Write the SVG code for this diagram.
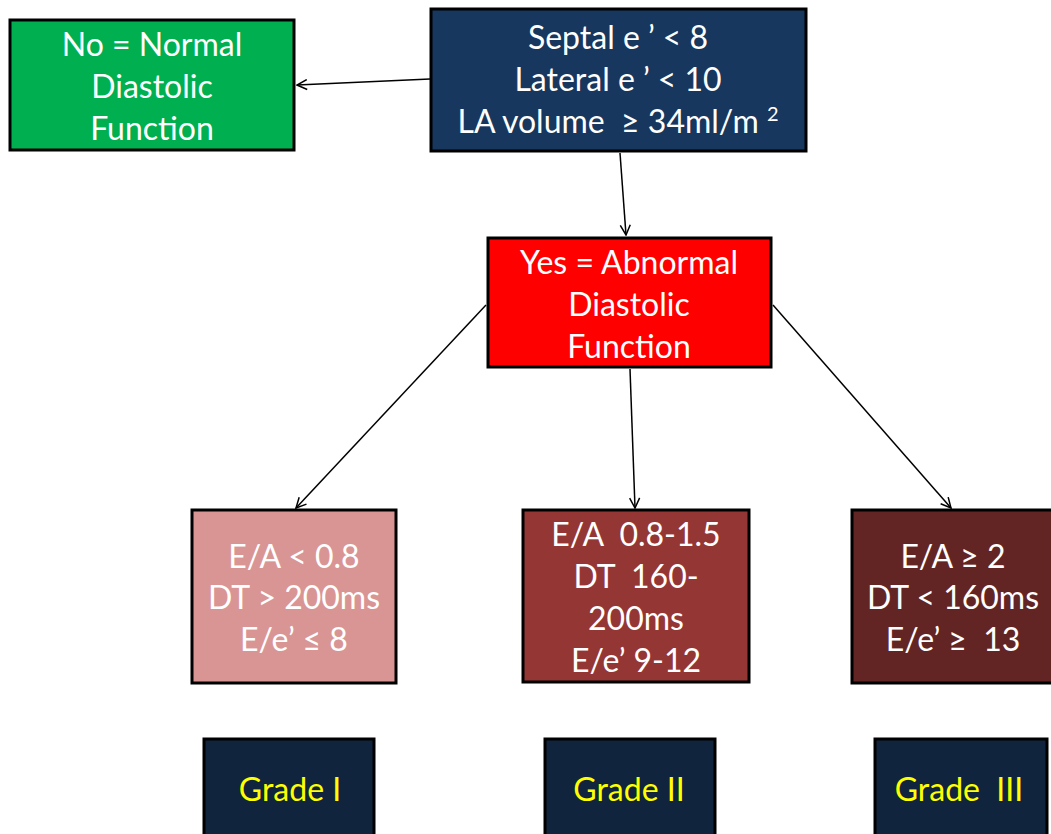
<svg xmlns="http://www.w3.org/2000/svg" width="1051" height="834" viewBox="0 0 1051 834">
<style>
.box{stroke:#000;stroke-width:3}
.t{font-family:Lato,"Open Sans","Liberation Sans",sans-serif;font-size:32px;fill:#fff;text-anchor:middle;white-space:pre}
.g{font-family:Lato,"Open Sans","Liberation Sans",sans-serif;font-size:32px;fill:#ffff00;text-anchor:middle;white-space:pre}
.c{stroke:#000;stroke-width:1.5;fill:none;marker-end:url(#ah)}
</style>
<defs>
<marker id="ah" viewBox="0 0 12 12" refX="11" refY="6" markerWidth="12" markerHeight="12" markerUnits="userSpaceOnUse" orient="auto">
<path d="M1,1 L11,6 L1,11" fill="none" stroke="#000" stroke-width="1.5"/>
</marker>
</defs>
<rect width="1051" height="834" fill="#fff"/>
<g id="connectors">
<line class="c" x1="430" y1="79" x2="297" y2="85"/>
<line class="c" x1="620" y1="153" x2="626" y2="235"/>
<line class="c" x1="486" y1="305" x2="296" y2="508"/>
<line class="c" x1="630" y1="369" x2="635" y2="508"/>
<line class="c" x1="773" y1="305" x2="951" y2="508"/>
</g>
<g id="criteria">
<rect class="box" x="431" y="9" width="375" height="142" fill="#17375e"/>
<text class="t" x="618" y="49">Septal e ’ &lt; 8</text>
<text class="t" x="618" y="91">Lateral e ’ &lt; 10</text>
<text class="t" x="618" y="133">LA volume  ≥ 34ml/m <tspan font-size="20" dy="-12">2</tspan></text>
</g>
<g id="normal">
<rect class="box" x="10" y="20" width="284" height="130" fill="#00b050"/>
<text class="t" x="152" y="56">No = Normal</text>
<text class="t" x="152" y="98">Diastolic</text>
<text class="t" x="152" y="140">Function</text>
</g>
<g id="abnormal">
<rect class="box" x="488" y="238" width="283" height="129" fill="#ff0000"/>
<text class="t" x="629" y="274">Yes = Abnormal</text>
<text class="t" x="629" y="316">Diastolic</text>
<text class="t" x="629" y="358">Function</text>
</g>
<g id="criteria1">
<rect class="box" x="192" y="510" width="204" height="173" fill="#d99594"/>
<text class="t" x="294" y="568">E/A &lt; 0.8</text>
<text class="t" x="294" y="609">DT &gt; 200ms</text>
<text class="t" x="294" y="651">E/e’ ≤ 8</text>
</g>
<g id="criteria2">
<rect class="box" x="523" y="510" width="226" height="172" fill="#943634"/>
<text class="t" x="636" y="546">E/A  0.8-1.5</text>
<text class="t" x="636" y="588">DT  160-</text>
<text class="t" x="636" y="630">200ms</text>
<text class="t" x="636" y="672">E/e’ 9-12</text>
</g>
<g id="criteria3">
<rect class="box" x="852" y="510" width="202" height="173" fill="#632523"/>
<text class="t" x="953" y="568">E/A ≥ 2</text>
<text class="t" x="953" y="609">DT &lt; 160ms</text>
<text class="t" x="953" y="651">E/e’ ≥  13</text>
</g>
<g id="grade1">
<rect class="box" x="204" y="739" width="170" height="100" fill="#10243e"/>
<text class="g" x="290" y="801">Grade I</text>
</g>
<g id="grade2">
<rect class="box" x="545" y="739" width="170" height="100" fill="#10243e"/>
<text class="g" x="629" y="801">Grade II</text>
</g>
<g id="grade3">
<rect class="box" x="875" y="739" width="172" height="100" fill="#10243e"/>
<text class="g" x="959" y="801">Grade  III</text>
</g>
</svg>
